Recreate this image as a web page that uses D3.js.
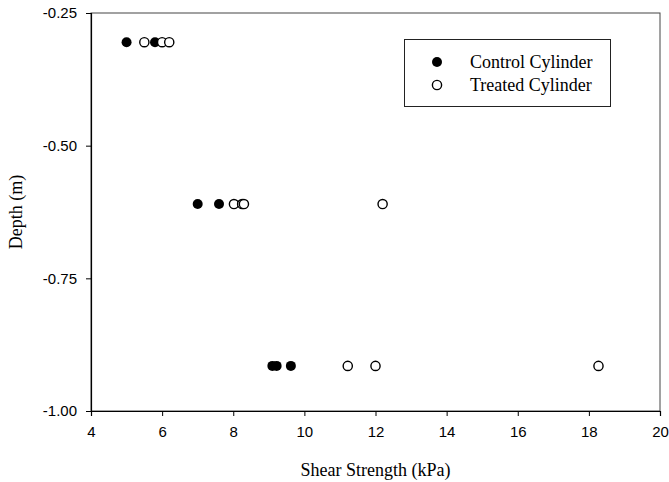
<!DOCTYPE html>
<html><head><meta charset="utf-8">
<script src="https://cdn.jsdelivr.net/npm/d3@7"></script>
<style>
html,body{margin:0;padding:0;background:#fff;}
svg{display:block;}
</style></head>
<body><svg id="c" width="669" height="482"></svg>
<script>
// Data
const controlStrength = [5.0, 5.8, 7.0, 7.6, 9.1, 9.22, 9.62];
const controlDepth    = [-0.305, -0.305, -0.61, -0.61, -0.915, -0.915, -0.915];
const treatedStrength = [5.5, 6.0, 6.2, 8.02, 8.25, 8.3, 12.2, 11.22, 12.0, 18.27];
const treatedDepth    = [-0.305, -0.305, -0.305, -0.61, -0.61, -0.61, -0.61, -0.915, -0.915, -0.915];
const xTicks = [4, 6, 8, 10, 12, 14, 16, 18, 20];
const yTicks = [-0.25, -0.50, -0.75, -1.00];
const legendLabels = ["Control Cylinder", "Treated Cylinder"];

const svg = d3.select("#c");
const m = {l: 91, r: 660, t: 13, b: 411};
const x = d3.scaleLinear().domain([4, 20]).range([m.l, m.r]);
const y = d3.scaleLinear().domain([-1.0, -0.25]).range([m.b, m.t]);
const serif = "Liberation Serif, Times New Roman, serif";
const sans = "Liberation Sans, Arial, sans-serif";

// frame
svg.append("rect").attr("x", m.l).attr("y", m.t).attr("width", m.r - m.l).attr("height", m.b - m.t)
  .attr("fill", "none").attr("stroke", "#444").attr("stroke-width", 1);

const xa = svg.append("g").attr("transform", `translate(0,${m.b})`)
  .call(d3.axisBottom(x).tickValues(xTicks).tickSize(5).tickPadding(10).tickFormat(d3.format("d")));
const ya = svg.append("g").attr("transform", `translate(${m.l},0)`)
  .call(d3.axisLeft(y).tickValues(yTicks).tickSize(5).tickPadding(9)
    .tickFormat(d => d3.format(".2f")(d).replace("\u2212", "-")));
[xa, ya].forEach(a => {
  a.select(".domain").attr("stroke", "#000").attr("stroke-width", 1.2);
  a.selectAll(".tick line").attr("stroke", "#000");
  a.selectAll("text").attr("font-family", sans).attr("font-size", 15).attr("fill", "#000");
});

// points
svg.append("g").selectAll("circle").data(controlStrength).join("circle")
  .attr("cx", (d) => x(d)).attr("cy", (d, i) => y(controlDepth[i])).attr("r", 5)
  .attr("fill", "#000");
svg.append("g").selectAll("circle").data(treatedStrength).join("circle")
  .attr("cx", (d) => x(d)).attr("cy", (d, i) => y(treatedDepth[i])).attr("r", 4.6)
  .attr("fill", "#fff").attr("stroke", "#000").attr("stroke-width", 1.4);

// axis titles
svg.append("text").attr("x", (m.l + m.r) / 2).attr("y", 476).attr("text-anchor", "middle")
  .attr("font-family", serif).attr("font-size", 18).text("Shear Strength (kPa)");
svg.append("text").attr("transform", `translate(22,${(m.t + m.b) / 2}) rotate(-90)`).attr("text-anchor", "middle")
  .attr("font-family", serif).attr("font-size", 18).text("Depth (m)");

// legend
const lg = svg.append("g");
lg.append("rect").attr("x", 404.5).attr("y", 39.5).attr("width", 206).attr("height", 67)
  .attr("fill", "#fff").attr("stroke", "#222").attr("stroke-width", 1);
legendLabels.forEach((lab, i) => {
  const cy = 62 + i * 23;
  lg.append("circle").attr("cx", 437).attr("cy", cy).attr("r", i === 0 ? 5 : 4.6)
    .attr("fill", i === 0 ? "#000" : "#fff").attr("stroke", i === 0 ? "none" : "#000").attr("stroke-width", 1.4);
  lg.append("text").attr("x", 470).attr("y", cy + 5.5).attr("font-family", serif)
    .attr("font-size", 18).text(lab);
});
</script></body></html>
